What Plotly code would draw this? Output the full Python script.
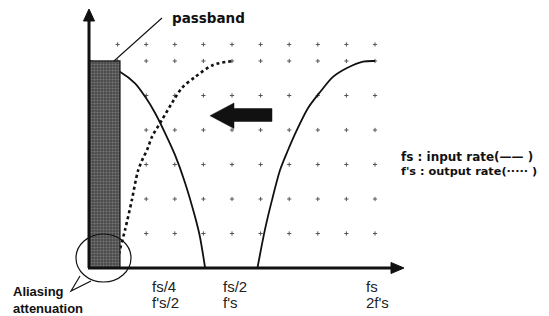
import numpy as np
import plotly.graph_objects as go

# ---- data (frequency in units of fs, magnitude normalised to passband level) ----
input_lobe1_f = [0.0, 0.05, 0.108, 0.161, 0.196, 0.231, 0.266, 0.301, 0.336, 0.371, 0.388, 0.406]
input_lobe1_mag = [1.0, 0.985, 0.948, 0.892, 0.828, 0.749, 0.652, 0.545, 0.411, 0.246, 0.150, 0.0]

input_lobe2_f = [0.589, 0.615, 0.640, 0.668, 0.696, 0.727, 0.766, 0.808, 0.853, 0.902, 0.958, 1.0]
input_lobe2_mag = [0.0, 0.184, 0.329, 0.473, 0.570, 0.667, 0.773, 0.850, 0.923, 0.966, 0.997, 1.0]

output_image_f = [0.101, 0.108, 0.126, 0.150, 0.171, 0.189, 0.203, 0.220, 0.255, 0.290, 0.325, 0.371, 0.434, 0.503]
output_image_mag = [0.039, 0.087, 0.184, 0.329, 0.468, 0.531, 0.570, 0.633, 0.715, 0.797, 0.870, 0.923, 0.981, 1.0]

passband_edge = 0.108
passband_level = 1.0

tick_pos = [0.25, 0.5, 1.0]
tick_labels_input = ["fs/4", "fs/2", "fs"]
tick_labels_output = ["f's/2", "f's", "2f's"]

grid_cols = [0.1, 0.2, 0.3, 0.4, 0.5, 0.6, 0.7, 0.8, 0.9, 1.0]
grid_rows = [1/6, 2/6, 3/6, 4/6, 5/6, 1.0, 1.08]

# ---- figure geometry ----
W, H = 549, 316
PX_X, PX_Y = 286.0, 207.0       # pixels per unit
ORIG_X, ORIG_Y = 89.0, 268.0    # pixel position of the origin

def dx(px):
    return (px - ORIG_X) / PX_X

def dy(py):
    return (ORIG_Y - py) / PX_Y

INK = "#111111"
fig = go.Figure()

# grid of small crosses
gx, gy = np.meshgrid(grid_cols, grid_rows)
fig.add_trace(go.Scatter(
    x=gx.ravel(), y=gy.ravel(), mode="markers",
    marker=dict(symbol="cross-thin", size=3, line=dict(color="#555555", width=1)),
    hoverinfo="skip"))

# input-rate response (solid)
for fx, my in [(input_lobe1_f, input_lobe1_mag), (input_lobe2_f, input_lobe2_mag)]:
    fig.add_trace(go.Scatter(x=fx, y=my, mode="lines",
                             line=dict(color=INK, width=1.8, shape="spline", smoothing=0.8)))

# output-rate image (dotted)
fig.add_trace(go.Scatter(x=output_image_f, y=output_image_mag, mode="lines",
                         line=dict(color=INK, width=2.6, dash="dot", shape="spline", smoothing=0.8)))

# passband block
fig.add_trace(go.Scatter(
    x=[0, passband_edge, passband_edge, 0, 0],
    y=[0, 0, passband_level, passband_level, 0],
    mode="lines", fill="toself", fillcolor="#555555",
    fillpattern=dict(shape=".", bgcolor="#4a4a4a", fgcolor="#a8a8a8", size=3, solidity=0.35),
    line=dict(color="#262626", width=1.5), hoverinfo="skip"))

shapes = []
# callout ellipse
shapes.append(dict(type="circle", xref="x", yref="y",
                   x0=dx(76), x1=dx(131), y0=dy(282), y1=dy(234),
                   line=dict(color=INK, width=1.2), layer="above"))
# tail of callout (white cover + two sides)
p1, tip, p2 = (dx(80), dy(276)), (dx(71), dy(291)), (dx(91), dy(281))
shapes.append(dict(type="path", xref="x", yref="y",
                   path=f"M {p1[0]} {p1[1]} L {tip[0]} {tip[1]} L {p2[0]} {p2[1]} Z",
                   fillcolor="white", line=dict(width=0), layer="above"))
shapes.append(dict(type="path", xref="x", yref="y",
                   path=f"M {p1[0]} {p1[1]} L {tip[0]} {tip[1]} L {p2[0]} {p2[1]}",
                   line=dict(color=INK, width=1.2), layer="above"))

# axes with arrowheads
shapes.append(dict(type="line", xref="x", yref="y", x0=0, y0=0, x1=0, y1=dy(20),
                   line=dict(color=INK, width=3), layer="above"))
shapes.append(dict(type="path", xref="x", yref="y",
                   path=f"M {dx(83.5)} {dy(21)} L {dx(89)} {dy(9)} L {dx(94.5)} {dy(21)} Z",
                   fillcolor=INK, line=dict(color=INK, width=1), layer="above"))
shapes.append(dict(type="line", xref="x", yref="y", x0=dx(88), y0=0, x1=dx(392), y1=0,
                   line=dict(color=INK, width=3), layer="above"))
shapes.append(dict(type="path", xref="x", yref="y",
                   path=f"M {dx(391)} {dy(262.5)} L {dx(404)} {dy(268)} L {dx(391)} {dy(273.5)} Z",
                   fillcolor=INK, line=dict(color=INK, width=1), layer="above"))

# big left-pointing arrow
arrow_pts = [(272, 108.5), (234, 108.5), (234, 103), (210, 115.7), (234, 128.5), (234, 121.5), (272, 121.5)]
path = "M " + " L ".join(f"{dx(a)} {dy(b)}" for a, b in arrow_pts) + " Z"
shapes.append(dict(type="path", xref="x", yref="y", path=path,
                   fillcolor=INK, line=dict(color=INK, width=0.5), layer="above"))

# passband leader line
shapes.append(dict(type="line", xref="x", yref="y", x0=dx(114), y0=dy(61), x1=dx(162), y1=dy(18),
                   line=dict(color=INK, width=1.1), layer="above"))

annotations = []
annotations.append(dict(x=dx(170), y=dy(17.5), xref="x", yref="y", text="passband",
                        showarrow=False, xanchor="left", yanchor="middle",
                        font=dict(family="DejaVu Sans", size=13.5, color=INK, weight="bold")))
annotations.append(dict(x=dx(399), y=dy(156.5), xref="x", yref="y", text="fs : input rate(—— )",
                        showarrow=False, xanchor="left", yanchor="middle",
                        font=dict(family="DejaVu Sans", size=12, color=INK, weight="bold")))
annotations.append(dict(x=dx(399), y=dy(171.5), xref="x", yref="y", text="f's : output rate(····· )",
                        showarrow=False, xanchor="left", yanchor="middle",
                        font=dict(family="DejaVu Sans", size=11.3, color=INK, weight="bold")))
annotations.append(dict(x=dx(11), y=dy(291.5), xref="x", yref="y", text="Aliasing",
                        showarrow=False, xanchor="left", yanchor="middle",
                        font=dict(family="Liberation Sans", size=13, color=INK, weight="bold")))
annotations.append(dict(x=dx(11), y=dy(308.5), xref="x", yref="y", text="attenuation",
                        showarrow=False, xanchor="left", yanchor="middle",
                        font=dict(family="Liberation Sans", size=13, color=INK, weight="bold")))
for pos, t1, t2 in zip(tick_pos, tick_labels_input, tick_labels_output):
    annotations.append(dict(x=pos, y=dy(286), xref="x", yref="y", text=t1, showarrow=False,
                            xanchor="left", yanchor="middle", xshift=-11,
                            font=dict(family="Liberation Sans", size=15, color="#222222")))
    annotations.append(dict(x=pos, y=dy(302), xref="x", yref="y", text=t2, showarrow=False,
                            xanchor="left", yanchor="middle", xshift=-11,
                            font=dict(family="Liberation Sans", size=15, color="#222222")))

fig.update_layout(
    width=W, height=H, margin=dict(l=0, r=0, t=0, b=0, pad=0),
    plot_bgcolor="white", paper_bgcolor="white", showlegend=False,
    xaxis=dict(range=[dx(0), dx(W)], visible=False, fixedrange=True),
    yaxis=dict(range=[dy(H), dy(0)], visible=False, fixedrange=True),
    shapes=shapes, annotations=annotations)

fig.write_html("out.html", config={"displayModeBar": False},
               post_script="document.body.style.margin='0';document.body.style.overflow='hidden';")
